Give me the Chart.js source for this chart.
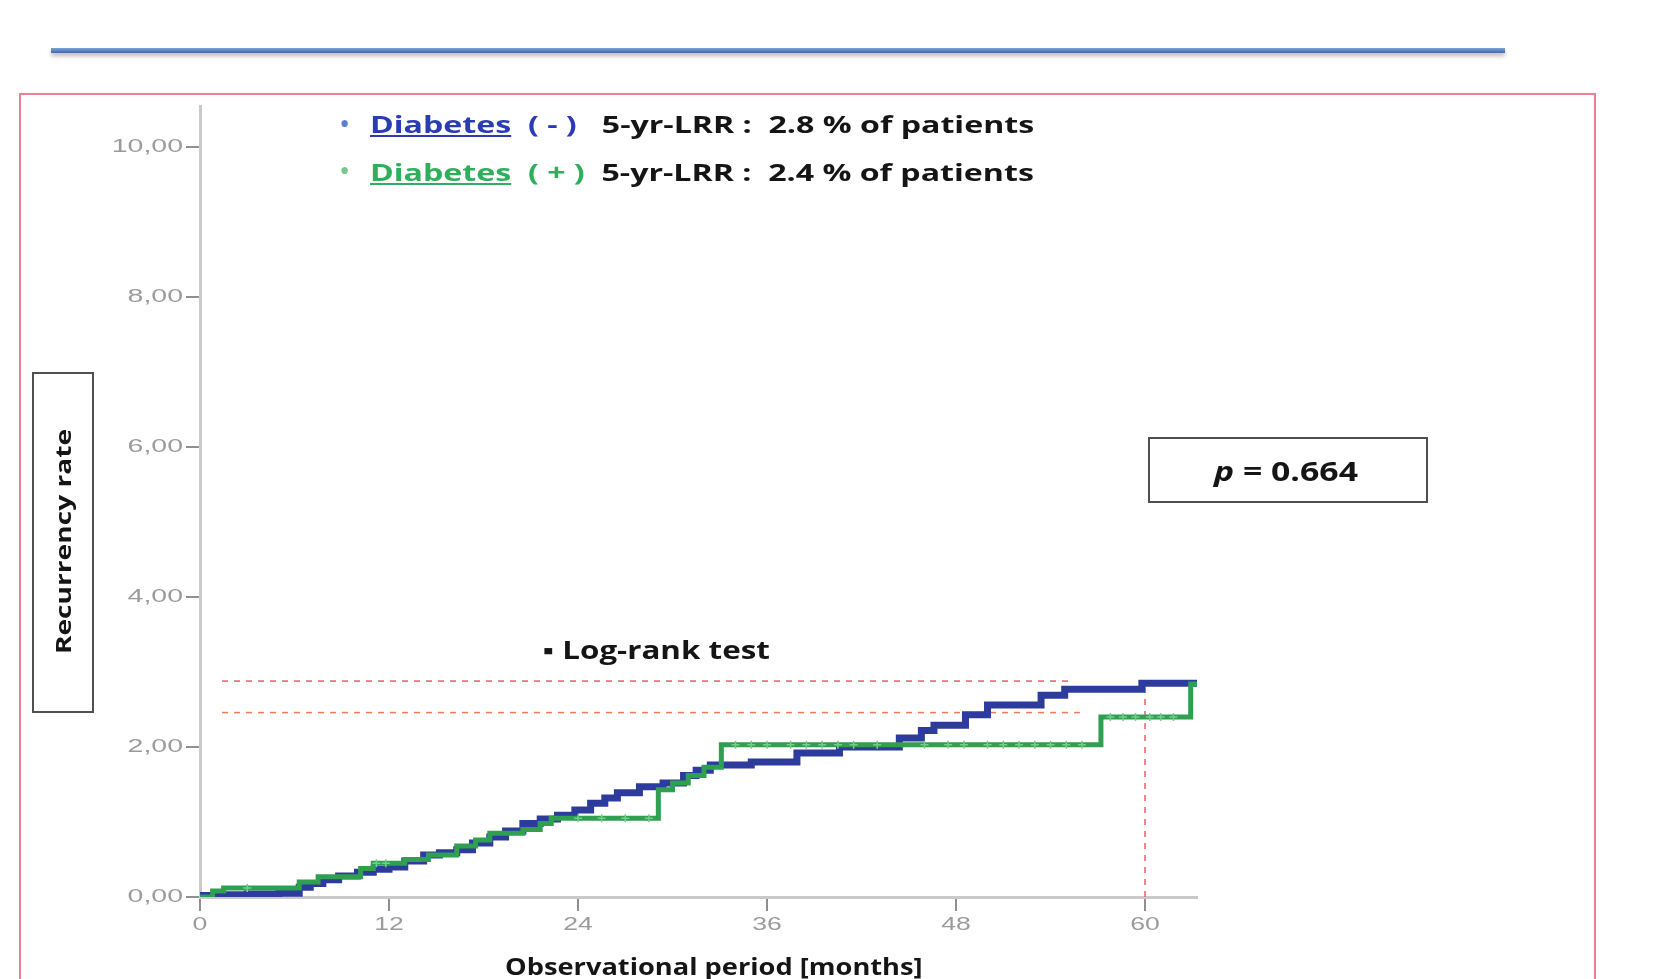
<!DOCTYPE html>
<html>
<head>
<meta charset="utf-8">
<script src="https://cdn.jsdelivr.net/npm/chart.js@4/dist/chart.umd.min.js"></script>
<style>
    body { margin: 0; background: #fff; width: 1660px; height: 979px; overflow: hidden; position: relative; }
    #km { position: absolute; left: 0; top: 0; }
    #rule { position: absolute; left: 51px; top: 48px; width: 1454px; height: 5px;
        background: linear-gradient(#7ea3d2, #3f6aa2); box-shadow: 0 3px 4px rgba(0,0,0,0.28); }
    #frame { position: absolute; left: 19px; top: 93px; width: 1573px; height: 1000px; border: 2px solid #e98094; }
    .txt { position: absolute; white-space: nowrap; font-family: "Open Sans", sans-serif; font-weight: bold;
        line-height: 1; color: #151515; transform-origin: left center; }
    .blue { color: #2a3cb4; }
    .green { color: #2fae5c; }
    .dot { position: absolute; font-family: "Open Sans", sans-serif; font-size: 30px; line-height: 1; }
    #ybox { position: absolute; left: 32px; top: 372px; width: 58px; height: 337px; border: 2px solid #505050; }
    #pbox { position: absolute; left: 1148px; top: 437px; width: 276px; height: 62px; border: 2px solid #505050; }
</style>
</head>
<body>
<div id="frame"></div>
<div id="rule"></div>
<canvas id="km" width="1660" height="979"></canvas>
<div id="ybox"></div>
<div id="pbox"></div>
<span class="dot" style="left:339px;top:108px;color:#5b7fd4">•</span>
<span class="dot" style="left:339px;top:155px;color:#72c98c">•</span>
<div class="txt" id="leg1" style="font-size:24px"><span class="blue"><u>Diabetes</u>&nbsp;&nbsp;( - )</span>&nbsp;&nbsp; 5-yr-LRR :&nbsp; 2.8 % of patients</div>
<div class="txt" id="leg2" style="font-size:24px"><span class="green"><u>Diabetes</u>&nbsp;&nbsp;( + )</span>&nbsp; 5-yr-LRR :&nbsp; 2.4 % of patients</div>
<div class="txt" id="logrank" style="font-size:25px">▪ Log-rank test</div>
<div class="txt" id="pval" style="font-size:27px"><i>p</i> = 0.664</div>
<div class="txt" id="xtitle" style="font-size:23px">Observational period [months]</div>
<div class="txt" id="ytitle" style="font-size:21px; transform-origin: center center">Recurrency rate</div>
<script>
// cumulative local recurrence (%), step at each month
const blueMonths = [0, 1.0, 3.0, 5.0, 6.3, 7.0, 7.8, 8.8, 10.0, 11.0, 12.0, 13.0, 14.2, 15.2, 16.3, 17.3, 18.4, 19.4, 20.5, 21.6, 22.7, 23.8, 24.8, 25.7, 26.5, 27.9, 29.4, 30.7, 31.5, 32.4, 35.0, 37.9, 40.6, 44.4, 45.8, 46.6, 48.6, 50.0, 53.4, 54.9, 59.8, 63.3];
const bluePct = [0.02, 0.03, 0.04, 0.05, 0.13, 0.18, 0.23, 0.28, 0.33, 0.37, 0.40, 0.48, 0.56, 0.59, 0.63, 0.72, 0.80, 0.88, 0.98, 1.04, 1.09, 1.16, 1.25, 1.32, 1.39, 1.47, 1.52, 1.62, 1.69, 1.76, 1.80, 1.92, 2.00, 2.12, 2.22, 2.29, 2.43, 2.56, 2.69, 2.77, 2.85, 2.85];
const greenMonths = [0, 0.8, 1.5, 6.3, 7.5, 10.2, 11.0, 13.0, 14.5, 16.3, 17.5, 18.4, 20.5, 21.6, 22.3, 29.1, 30.0, 31.0, 32.0, 33.1, 57.2, 62.9, 63.3];
const greenPct = [0, 0.08, 0.12, 0.20, 0.27, 0.38, 0.45, 0.50, 0.56, 0.68, 0.76, 0.85, 0.90, 0.98, 1.05, 1.43, 1.52, 1.62, 1.73, 2.03, 2.40, 2.84, 2.84];
const greenCensored = [3, 11.2, 11.8, 24, 25.5, 27, 28.5, 34, 35, 36, 37.5, 38.5, 39.5, 40.5, 41.5, 43, 46, 47.5, 48.5, 50, 51, 52, 53, 54, 55, 56, 57.8, 58.6, 59.4, 60.3, 61, 61.8];
const lrrLevels = [2.88, 2.46];
const lrrLineStart = 1.4;
const lrrLineEnds = [55.2, 56.0];
const landmarkMonth = 60;
const xTicks = [0, 12, 24, 36, 48, 60];
const xTickLabels = ["0", "12", "24", "36", "48", "60"];
const yTicks = [0, 2, 4, 6, 8, 10];
const yTickLabels = ["0,00", "2,00", "4,00", "6,00", "8,00", "10,00"];

function pts(xs, ys) {
    return xs.map((x, i) => ({ x: x, y: ys[i] }));
}
function stepValue(months, pct, t) {
    let v = pct[0];
    for (let i = 0; i < months.length; i++) if (months[i] <= t) v = pct[i];
    return v;
}

const stretchTicks = {
    id: "stretchTicks",
    afterDraw(chart) {
        const ctx = chart.ctx;
        const xs = chart.scales.x, ys = chart.scales.y;
        ctx.save();
        ctx.fillStyle = "#9b9b9b";
        ctx.font = '19px "Liberation Sans"';
        ctx.textBaseline = "middle";
        ctx.textAlign = "right";
        yTicks.forEach((v, i) => {
            ctx.save();
            ctx.translate(ys.right - 17, ys.getPixelForValue(v));
            ctx.scale(1.5, 1);
            ctx.fillText(yTickLabels[i], 0, 0);
            ctx.restore();
        });
        ctx.textAlign = "center";
        xTicks.forEach((v, i) => {
            ctx.save();
            ctx.translate(xs.getPixelForValue(v), xs.top + 28);
            ctx.scale(1.4, 1);
            ctx.fillText(xTickLabels[i], 0, 0);
            ctx.restore();
        });
        ctx.restore();
    },
};

const axisStyle = {
    grid: { drawOnChartArea: false, drawTicks: true, tickLength: 14, color: "#8f8f8f", lineWidth: 2 },
    border: { display: true, color: "#cacaca", width: 3 },
};

new Chart(document.getElementById("km"), {
    type: "line",
    data: {
        datasets: [
            {
                label: "censored",
                data: greenCensored.map((t) => ({ x: t, y: stepValue(greenMonths, greenPct, t) })),
                showLine: false,
                pointStyle: "cross",
                pointRadius: 4,
                borderColor: "#74cf86",
                borderWidth: 1.5,
            },
            {
                label: "Diabetes (+)",
                data: pts(greenMonths, greenPct),
                stepped: "before",
                borderColor: "#2f9f50",
                borderWidth: 5,
                pointRadius: 0,
            },
            {
                label: "Diabetes (-)",
                data: pts(blueMonths, bluePct),
                stepped: "before",
                borderColor: "#2d3c9c",
                borderWidth: 7,
                pointRadius: 0,
            },
            {
                data: [{ x: lrrLineStart, y: lrrLevels[0] }, { x: lrrLineEnds[0], y: lrrLevels[0] }],
                borderColor: "#e8606a",
                borderWidth: 1.5,
                borderDash: [6, 6],
                pointRadius: 0,
            },
            {
                data: [{ x: lrrLineStart, y: lrrLevels[1] }, { x: lrrLineEnds[1], y: lrrLevels[1] }],
                borderColor: "#ec7a55",
                borderWidth: 1.5,
                borderDash: [6, 6],
                pointRadius: 0,
            },
            {
                data: [{ x: landmarkMonth, y: 0 }, { x: landmarkMonth, y: lrrLevels[0] }],
                borderColor: "#e8606a",
                borderWidth: 1.5,
                borderDash: [6, 6],
                pointRadius: 0,
            },
        ],
    },
    options: {
        responsive: false,
        animation: false,
        devicePixelRatio: 1,
        layout: { padding: { left: 0, top: 106, right: 463, bottom: 0 } },
        plugins: { legend: { display: false }, tooltip: { enabled: false } },
        scales: {
            x: Object.assign({
                type: "linear", min: 0, max: 63.3,
                ticks: { stepSize: 12, display: false, includeBounds: false },
                afterFit(s) { s.height = 82; },
            }, axisStyle),
            y: Object.assign({
                type: "linear", min: 0, max: 10.55,
                ticks: { stepSize: 2, display: false, includeBounds: false },
                afterFit(s) { s.width = 200; },
            }, axisStyle),
        },
    },
    plugins: [stretchTicks],
});

function fitText(id, left, centerY, width) {
    let el = document.getElementById(id);
    let w = el.offsetWidth, h = el.offsetHeight;
    el.style.left = left + "px";
    el.style.top = centerY - h / 2 + "px";
    el.style.transform = "scaleX(" + width / w + ")";
}
fitText("leg1", 370, 124, 664);
fitText("leg2", 370, 172, 664);
fitText("logrank", 543, 649, 227);
fitText("pval", 1214, 470, 144);
fitText("xtitle", 505, 966, 418);

let yt = document.getElementById("ytitle");
let yw = yt.offsetWidth, yh = yt.offsetHeight;
yt.style.left = 63 - yw / 2 + "px";
yt.style.top = 541 - yh / 2 + "px";
yt.style.transform = "rotate(-90deg) scaleX(" + 225 / yw + ")";
</script>
</body>
</html>
